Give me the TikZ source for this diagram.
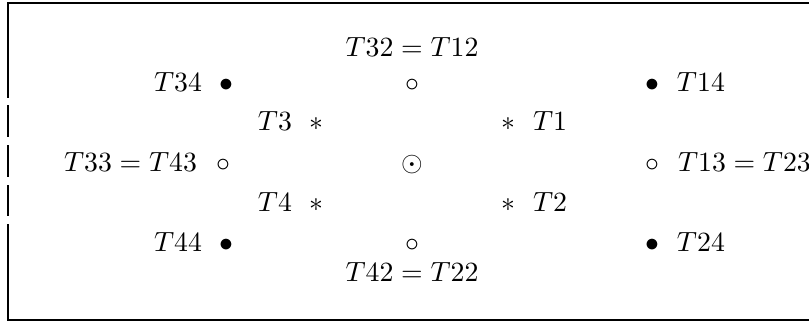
\documentclass[tikz,border=0pt]{standalone}
\begin{document}
\begin{tikzpicture}[x=0.3597pt,y=-0.3597pt,
  lbl/.style={inner sep=0pt,outer sep=0pt},
  sym/.style={inner sep=0pt,outer sep=0pt,anchor=base},
  frame/.style={line width=0.9pt}]
\useasboundingbox (0,0) rectangle (809,324);
% frame
\draw[frame] (809,3) -- (8,3) -- (8,98);
\draw[frame] (8,105) -- (8,137);
\draw[frame] (8,145) -- (8,177);
\draw[frame] (8,185) -- (8,216);
\draw[frame] (8,224) -- (8,320) -- (809,320);
% row 1
\node[lbl,anchor=base] (t3212) at (412,56) {$T32=T12$};
% row 2
\node[lbl,anchor=base east] (t34) at (202,91) {$T34$};
\node[sym] (b34) at (226,91) {$\bullet$};
\node[sym] (c32) at (412,91) {$\circ$};
\node[sym] (b14) at (652,91) {$\bullet$};
\node[lbl,anchor=base west] (t14) at (677,91) {$T14$};
% row 3
\node[lbl,anchor=base east] (t3) at (292,130) {$T3$};
\node[sym] (a3) at (316,130) {$\ast$};
\node[sym] (a1) at (508,130) {$\ast$};
\node[lbl,anchor=base west] (t1) at (533,130) {$T1$};
% row 4
\node[lbl,anchor=base east] (t3343) at (197,171) {$T33=T43$};
\node[sym] (c33) at (223,171) {$\circ$};
\node[sym] (o) at (412,171) {$\odot$};
\node[sym] (c13) at (652,171) {$\circ$};
\node[lbl,anchor=base west] (t1323) at (678,171) {$T13=T23$};
% row 5
\node[lbl,anchor=base east] (t4) at (292,211) {$T4$};
\node[sym] (a4) at (316,211) {$\ast$};
\node[sym] (a2) at (508,211) {$\ast$};
\node[lbl,anchor=base west] (t2) at (533,211) {$T2$};
% row 6
\node[lbl,anchor=base east] (t44) at (202,251) {$T44$};
\node[sym] (b44) at (226,251) {$\bullet$};
\node[sym] (c42) at (412,251) {$\circ$};
\node[sym] (b24) at (652,251) {$\bullet$};
\node[lbl,anchor=base west] (t24) at (677,251) {$T24$};
% row 7
\node[lbl,anchor=base] (t4222) at (412,281) {$T42=T22$};
\end{tikzpicture}
\end{document}
